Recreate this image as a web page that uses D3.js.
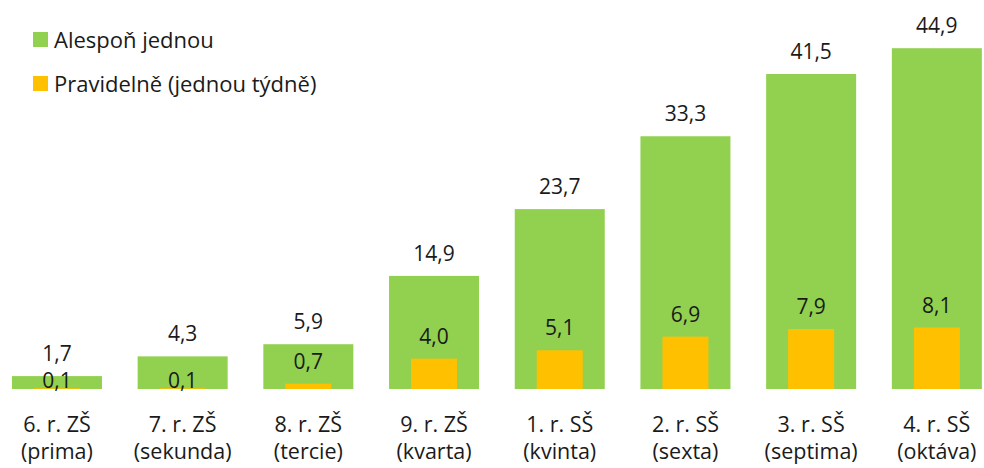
<!DOCTYPE html>
<html>
<head>
<meta charset="utf-8">
<script src="https://cdn.jsdelivr.net/npm/d3@7"></script>
<style>
  html, body { margin: 0; padding: 0; background: #fff; }
  svg { display: block; }
  text { font-family: "Open Sans", "Noto Sans", sans-serif; fill: #1a1a1a; }
</style>
</head>
<body>
<svg id="chart" width="984" height="468"></svg>
<script>
// Grade levels (two-line labels)
const gradeLine1 = ["6. r. ZŠ", "7. r. ZŠ", "8. r. ZŠ", "9. r. ZŠ", "1. r. SŠ", "2. r. SŠ", "3. r. SŠ", "4. r. SŠ"];
const gradeLine2 = ["(prima)", "(sekunda)", "(tercie)", "(kvarta)", "(kvinta)", "(sexta)", "(septima)", "(oktáva)"];

// Share of pupils (%)
const atLeastOnce = [1.7, 4.3, 5.9, 14.9, 23.7, 33.3, 41.5, 44.9];
const regularly   = [0.1, 0.1, 0.7, 4.0, 5.1, 6.9, 7.9, 8.1];

const seriesNames = ["Alespoň jednou", "Pravidelně (jednou týdně)"];
const seriesColors = ["#92d050", "#ffc000"];

const fmt = v => d3.format(".1f")(v).replace(".", ",");

const svg = d3.select("#chart");

const x = d3.scaleBand()
  .domain(gradeLine1)
  .range([-5.9, 999.7])
  .padding(0);

const y = d3.scaleLinear()
  .domain([0, 50])
  .range([389, 9.5]);

const wideW = x.bandwidth() * 0.716;
const narrowW = x.bandwidth() * 0.366;
const cx = d => x(d) + x.bandwidth() / 2;

// Wide bars: at least once
svg.append("g").selectAll("rect")
  .data(gradeLine1)
  .join("rect")
  .attr("x", (d) => cx(d) - wideW / 2)
  .attr("width", wideW)
  .attr("y", (d, i) => y(atLeastOnce[i]))
  .attr("height", (d, i) => y(0) - y(atLeastOnce[i]))
  .attr("fill", seriesColors[0]);

// Narrow bars: regularly
svg.append("g").selectAll("rect")
  .data(gradeLine1)
  .join("rect")
  .attr("x", (d) => cx(d) - narrowW / 2)
  .attr("width", narrowW)
  .attr("y", (d, i) => y(regularly[i]))
  .attr("height", (d, i) => y(0) - y(regularly[i]))
  .attr("fill", seriesColors[1]);

// Value labels
const labelSize = 21;
svg.append("g").selectAll("text")
  .data(gradeLine1)
  .join("text")
  .attr("x", d => cx(d))
  .attr("y", (d, i) => y(atLeastOnce[i]) - 15)
  .attr("text-anchor", "middle")
  .attr("font-size", labelSize)
  .text((d, i) => fmt(atLeastOnce[i]));

// Labels of near-zero bars sit on the baseline
svg.append("g").selectAll("text")
  .data(gradeLine1)
  .join("text")
  .attr("x", d => cx(d))
  .attr("y", (d, i) => regularly[i] < 0.5 ? y(0) - 1.5 : y(regularly[i]) - 15)
  .attr("text-anchor", "middle")
  .attr("font-size", labelSize)
  .text((d, i) => fmt(regularly[i]));

// Category labels
const catG = svg.append("g");
catG.selectAll("text.l1")
  .data(gradeLine1)
  .join("text")
  .attr("class", "l1")
  .attr("x", d => cx(d))
  .attr("y", 432)
  .attr("text-anchor", "middle")
  .attr("font-size", 21.5)
  .text(d => d);
catG.selectAll("text.l2")
  .data(gradeLine1)
  .join("text")
  .attr("class", "l2")
  .attr("x", d => cx(d))
  .attr("y", 459)
  .attr("text-anchor", "middle")
  .attr("font-size", 21.5)
  .text((d, i) => gradeLine2[i]);

// Legend
const legend = svg.append("g");
seriesNames.forEach((name, i) => {
  const ly = 32 + i * 44;
  legend.append("rect")
    .attr("x", 33).attr("y", ly)
    .attr("width", 15).attr("height", 15)
    .attr("fill", seriesColors[i]);
  legend.append("text")
    .attr("x", 54).attr("y", ly + 15.5)
    .attr("font-size", 22)
    .text(name);
});
</script>
</body>
</html>
